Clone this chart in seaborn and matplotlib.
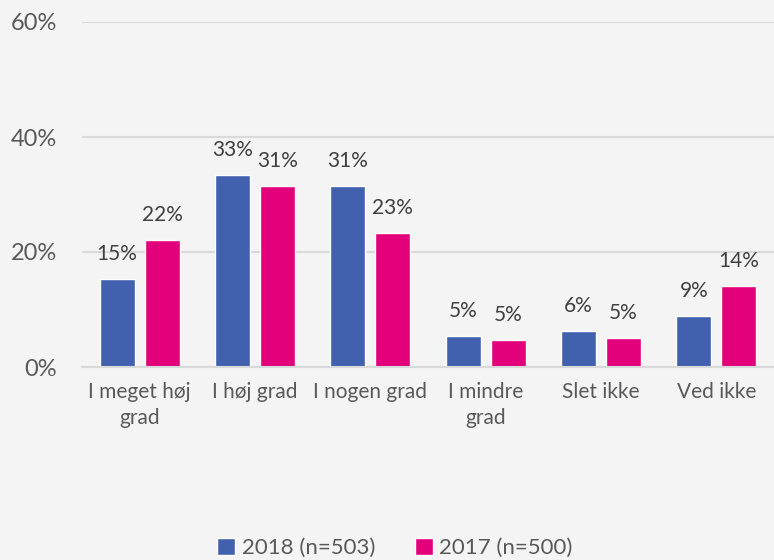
import pandas as pd
import matplotlib.pyplot as plt
import seaborn as sns

# Data
categories = ['I meget høj\ngrad', 'I høj grad', 'I nogen grad', 'I mindre\ngrad', 'Slet ikke', 'Ved ikke']
series = ['2018 (n=503)', '2017 (n=500)']
values_2018 = [15.3, 33.4, 31.4, 5.4, 6.2, 8.8]
values_2017 = [22.1, 31.4, 23.3, 4.7, 5.0, 14.1]
y_ticks = [0, 20, 40, 60]

colors = ['#4161AE', '#E3007B']
bg = '#F4F4F4'
txt = '#595959'
grid = '#D9D9D9'

df = pd.DataFrame({
    'kategori': categories * 2,
    'serie': [series[0]] * len(categories) + [series[1]] * len(categories),
    'andel': values_2018 + values_2017,
})

sns.set_theme(style='white')
plt.rcParams['font.family'] = ['Lato', 'DejaVu Sans']

fig = plt.figure(figsize=(7.74, 5.6), dpi=100, facecolor=bg)
ax = fig.add_axes([82 / 774, 1 - 367 / 560, 1 - 82 / 774, (367 - 22) / 560])
ax.set_facecolor(bg)

sns.barplot(data=df, x='kategori', y='andel', hue='serie', palette=colors,
            width=0.78, gap=0.22, ax=ax, legend=True, saturation=1)

# Etiketter over søjlerne
for container in ax.containers:
    for bar in container:
        h = bar.get_height()
        ax.annotate(f'{h:.0f}%', (bar.get_x() + bar.get_width() / 2, h),
                    xytext=(0, 18), textcoords='offset points',
                    ha='center', va='center', fontsize=15, color='#404040')

ax.set_ylim(0, 60)
ax.set_yticks(y_ticks)
ax.set_yticklabels([f'{t}%' for t in y_ticks])
ax.yaxis.grid(True, color=grid, linewidth=1.5)
ax.set_axisbelow(True)
ax.set_xlabel('')
ax.set_ylabel('')
ax.tick_params(axis='y', length=0, pad=18, labelsize=17, labelcolor=txt)
ax.tick_params(axis='x', length=0, pad=11, labelsize=15, labelcolor=txt)
for lbl in ax.get_xticklabels():
    lbl.set_linespacing(1.35)
for side in ['left', 'right', 'top']:
    ax.spines[side].set_visible(False)
ax.spines['bottom'].set_color(grid)
ax.spines['bottom'].set_linewidth(1.5)

handles, labels = ax.get_legend_handles_labels()
ax.legend(handles, labels, loc='center', bbox_to_anchor=(395 / 774, 1 - 548 / 560),
          bbox_transform=fig.transFigure, ncol=2, frameon=False, fontsize=16,
          labelcolor=txt, handlelength=0.8, handleheight=0.8, handletextpad=0.3,
          columnspacing=1.8)

fig.savefig('out.png', dpi=100, facecolor=bg)
